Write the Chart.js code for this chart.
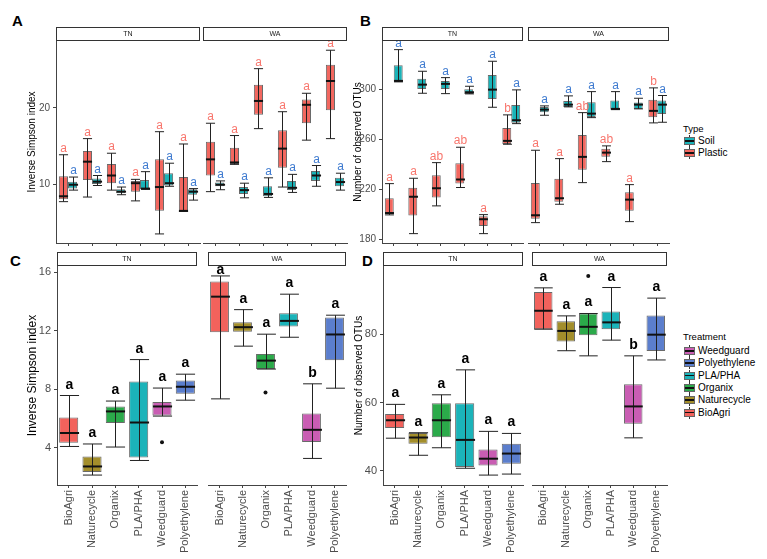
<!DOCTYPE html>
<html>
<head>
<meta charset="utf-8">
<script src="https://cdn.jsdelivr.net/npm/chart.js@4.4.1/dist/chart.umd.min.js"></script>
<style>
  body { margin: 0; background: #fff; font-family: "Liberation Sans", Arial, sans-serif; }
  #fig { position: relative; width: 767px; height: 559px; overflow: hidden; background: #fff; }
  canvas { position: absolute; }
  .tag { position: absolute; font-weight: bold; font-size: 15px; line-height: 15px; color: #000; }
  .legend { position: absolute; left: 683px; font-size: 10px; line-height: 12px; color: #000; }
  .legend .ttl { font-size: 9.5px; }
  .legend .item { display: flex; align-items: center; height: 12.3px; }
  .key { position: relative; width: 11px; height: 12px; margin: 0 3px 0 1px; flex: none; }
  .key i { position: absolute; left: 5px; top: 0; width: 1px; height: 12px; background: #333; }
  .key b { position: absolute; left: 0; top: 2px; width: 9px; height: 6px; border: 1px solid #666; }
  .key u { position: absolute; left: 1px; top: 5px; width: 9px; height: 1.5px; background: #111; }
</style>
</head>
<body>
<div id="fig">
  <div class="tag" style="left:12px;top:13px">A</div>
  <div class="tag" style="left:360px;top:13px">B</div>
  <div class="tag" style="left:10px;top:253px">C</div>
  <div class="tag" style="left:362px;top:253px">D</div>

  <canvas id="aTN" width="180" height="260" style="left:22px;top:0"></canvas>
  <canvas id="aWA" width="146" height="260" style="left:203px;top:0"></canvas>
  <canvas id="bTN" width="177" height="260" style="left:348px;top:0"></canvas>
  <canvas id="bWA" width="143" height="260" style="left:528px;top:0"></canvas>
  <canvas id="cTN" width="180" height="309" style="left:21px;top:250px"></canvas>
  <canvas id="cWA" width="146" height="309" style="left:204px;top:250px"></canvas>
  <canvas id="dTN" width="176" height="309" style="left:349px;top:250px"></canvas>
  <canvas id="dWA" width="143" height="309" style="left:528px;top:250px"></canvas>

  <div class="legend" style="top:123px">
    <div class="ttl">Type</div>
    <div class="item"><span class="key"><i></i><b style="background:#19B3B8"></b><u></u></span>Soil</div>
    <div class="item"><span class="key"><i></i><b style="background:#F2675F"></b><u></u></span>Plastic</div>
  </div>
  <div class="legend" id="treatLegend" style="top:331px">
    <div class="ttl" style="margin-bottom:2px">Treatment</div>
  </div>
</div>

<script>
const treatments = ['BioAgri', 'Naturecycle', 'Organix', 'PLA/PHA', 'Weedguard', 'Polyethylene'];
const legendOrder = ['Weedguard', 'Polyethylene', 'PLA/PHA', 'Organix', 'Naturecycle', 'BioAgri'];

// five-number summaries per treatment: [min, q1, median, q3, max]
// Panel A: inverse Simpson, plastic vs soil
const simpsonTN_plastic = [[7.8, 8.1, 8.5, 11.1, 13.9], [8.4, 10.6, 13.0, 14.4, 16.0], [9.3, 10.2, 11.2, 12.7, 14.1],
                           [7.9, 9.1, 10.2, 10.5, 10.7], [3.6, 6.6, 9.7, 13.3, 16.9], [6.55, 6.55, 6.6, 11.0, 15.3]];
const simpsonTN_soil    = [[9.3, 9.5, 10.0, 10.4, 11.0], [9.9, 10.1, 10.4, 10.8, 11.2], [8.7, 8.9, 9.1, 9.4, 9.7],
                           [9.4, 9.45, 9.5, 10.6, 11.7], [9.8, 9.9, 10.2, 11.5, 12.8], [8.0, 8.7, 9.1, 9.4, 9.5]];
const simpsonWA_plastic = [[9.1, 11.2, 13.3, 15.6, 18.0], [12.65, 12.7, 12.9, 14.8, 16.4], [17.3, 19.1, 20.9, 23.0, 25.1],
                           [9.7, 12.2, 14.7, 17.1, 19.5], [15.8, 18.0, 20.4, 21.1, 21.9], [16.0, 19.7, 23.5, 25.6, 27.5]];
const simpsonWA_soil    = [[9.35, 9.8, 10.0, 10.3, 10.5], [8.3, 8.8, 9.3, 9.7, 10.2], [8.35, 8.5, 8.8, 9.8, 10.9],
                           [9.0, 9.3, 9.6, 10.5, 11.35], [9.8, 10.5, 11.2, 11.8, 12.5], [9.3, 9.8, 10.35, 10.9, 11.5]];
const simpsonTypeLetters = ['a', 'a', 'a', 'a', 'a', 'a'];

// Panel B: observed OTUs, plastic vs soil
const otuTN_plastic = [[199.5, 200, 201, 212.8, 224.5], [184.5, 199, 214, 221.3, 228.8], [206.7, 213.4, 220.8, 231.2, 241.3],
                       [221.4, 224.6, 227.8, 240.8, 253.6], [184.5, 190.7, 196, 198.4, 199.7], [256, 256.3, 258.7, 269.1, 279.5]];
const otuTN_soil    = [[305.9, 306, 306.7, 319.2, 331.7], [296.8, 300.3, 303.7, 308.5, 314.4], [296.5, 300.3, 304.3, 306.7, 309.3],
                       [296.3, 296.3, 297.6, 300, 302.4], [285.6, 292.3, 299.7, 311.5, 322.4], [272.5, 273.3, 275.2, 287.5, 299.5]];
const otuWA_plastic = [[193.3, 196.5, 199.2, 225.1, 251.2], [208, 210.1, 212.8, 228.5, 244.5], [225.3, 235.7, 245.9, 263.5, 281.3],
                       [242.1, 246.1, 249.3, 252.5, 254.7], [194.1, 202.9, 211.7, 217.6, 223.7], [273.1, 277.6, 282.7, 291.7, 301.1]];
const otuWA_soil    = [[279.2, 281.6, 283.7, 285.9, 286.7], [285.9, 285.9, 287.7, 290.7, 294.7], [277.3, 277.9, 280.5, 289.6, 298.1],
                       [283.7, 283.7, 284.3, 291, 298.1], [284.3, 284.3, 287.7, 289.4, 292.8], [273.6, 280.3, 287.7, 291, 295]];
const otuPlasticLetters = ['a', 'a', 'ab', 'ab', 'a', 'b'];
const otuSoilLetters = ['a', 'a', 'a', 'a', 'a', 'a'];

// Panel C: inverse Simpson by treatment
const simpsonTreatTN = [[4.07, 4.32, 4.99, 6.06, 7.56], [2.11, 2.32, 2.7, 3.39, 4.24], [4.03, 5.67, 6.47, 6.81, 7.18],
                        [3.11, 3.32, 5.71, 8.52, 10.02], [6.15, 6.19, 6.81, 7.11, 8.07], [7.24, 7.68, 8.16, 8.59, 9.02]];
const simpsonTreatWA = [[7.33, 11.9, 14.33, 15.36, 15.75], [10.94, 11.92, 12.24, 12.58, 13.44], [9.37, 9.37, 9.95, 10.41, 11.76],
                        [11.55, 12.28, 12.67, 13.19, 14.5], [3.25, 4.37, 5.21, 6.33, 8.36], [8.06, 9.98, 11.74, 12.9, 13.06]];
const simpsonOutTN = [{ x: 'Weedguard', y: 4.35 }];
const simpsonOutWA = [{ x: 'Organix', y: 7.77 }];
const simpsonTreatLettersTN = ['a', 'a', 'a', 'a', 'a', 'a'];
const simpsonTreatLettersWA = ['a', 'a', 'a', 'a', 'b', 'a'];

// Panel D: observed OTUs by treatment
const otuTreatTN = [[49.6, 52.6, 54.85, 56.7, 59.5], [44.6, 48, 49.8, 51.1, 51.2], [46.8, 49.9, 54.85, 59.8, 62.3],
                    [40.8, 41.2, 49.1, 59.8, 69.6], [38.8, 41.6, 43.6, 46.3, 51.6], [39.1, 42.1, 45.1, 48, 51]];
const otuTreatWA = [[81.5, 81.5, 86.9, 92.4, 93.6], [75.2, 77.9, 81, 83.8, 85.4], [73.7, 79.7, 82.2, 86.1, 86.1],
                    [78.3, 81.5, 83.5, 86.7, 93.7], [49.7, 53.8, 58.9, 65.4, 73.7], [72.5, 75.1, 79.9, 85.5, 90.6]];
const otuOutTN = [];
const otuOutWA = [{ x: 'Organix', y: 97.1 }];
const otuTreatLettersTN = ['a', 'a', 'a', 'a', 'a', 'a'];
const otuTreatLettersWA = ['a', 'a', 'a', 'a', 'b', 'a'];

const simpsonTicksA = [10, 20];
const otuTicksB = [180, 220, 260, 300];
const simpsonTicksC = [4, 8, 12, 16];
const otuTicksD = [40, 60, 80];

const plasticColor = '#F2675F', soilColor = '#19B3B8';
const treatColors = ['#F2625C', '#A38E2B', '#2BAA4A', '#1BB3B9', '#C95DB3', '#5B7ECD'];
const axisColor = '#444';
const fontFamily = '"Liberation Sans", Arial, sans-serif';
Chart.defaults.font.family = fontFamily;

// treatment legend
const legendBox = document.getElementById('treatLegend');
legendOrder.forEach(t => {
  const c = treatColors[treatments.indexOf(t)];
  const row = document.createElement('div');
  row.className = 'item';
  row.innerHTML = '<span class="key"><i></i><b style="background:' + c + '"></b><u></u></span>' + t;
  legendBox.appendChild(row);
});

// facet strip (TN / WA) drawn above the chart area
const stripPlugin = {
  id: 'strip',
  afterDraw(chart, args, opts) {
    const a = chart.chartArea, ctx = chart.ctx, h = 14;
    ctx.save();
    ctx.fillStyle = '#fff';
    ctx.strokeStyle = '#333';
    ctx.lineWidth = 1;
    ctx.fillRect(a.left, a.top - h, a.right - a.left, h);
    ctx.strokeRect(a.left + 0.5, a.top - h + 0.5, a.right - a.left - 1, h - 1);
    ctx.fillStyle = '#1a1a1a';
    ctx.font = '7px ' + fontFamily;
    ctx.textAlign = 'center';
    ctx.textBaseline = 'middle';
    ctx.fillText(opts.text, (a.left + a.right) / 2, a.top - h / 2);
    ctx.restore();
  }
};

// whiskers, caps, medians and letters on top of the floating bars
const boxPlugin = {
  id: 'boxWhisker',
  afterDatasetsDraw(chart, args, opts) {
    const ctx = chart.ctx, y = chart.scales.y, top = chart.chartArea.top;
    chart.data.datasets.forEach((ds, di) => {
      if (!ds.stats) return;
      chart.getDatasetMeta(di).data.forEach((bar, i) => {
        const s = ds.stats[i];
        const x = Math.round(bar.x) + 0.5, hw = bar.width / 2;
        const pMin = y.getPixelForValue(s[0]), pMed = y.getPixelForValue(s[2]), pMax = y.getPixelForValue(s[4]);
        ctx.save();
        ctx.strokeStyle = '#222';
        ctx.lineWidth = 1;
        ctx.beginPath();
        ctx.moveTo(x, pMax); ctx.lineTo(x, pMin);
        ctx.moveTo(x - hw, pMax); ctx.lineTo(x + hw, pMax);
        ctx.moveTo(x - hw, pMin); ctx.lineTo(x + hw, pMin);
        ctx.stroke();
        ctx.strokeStyle = '#111';
        ctx.lineWidth = 2;
        ctx.beginPath();
        ctx.moveTo(x - hw, pMed); ctx.lineTo(x + hw, pMed);
        ctx.stroke();
        ctx.fillStyle = ds.letterColor;
        ctx.font = opts.font;
        ctx.textAlign = 'center';
        ctx.textBaseline = 'alphabetic';
        ctx.fillText(ds.letters[i], x, Math.max(pMax - opts.gap, top + opts.gap + 1));
        ctx.restore();
      });
    });
  }
};

function boxes(stats, color, letters, letterColor, width) {
  return {
    type: 'bar',
    data: stats.map(s => [s[1], s[3]]),
    stats: stats,
    letters: letters,
    letterColor: letterColor,
    backgroundColor: color,
    borderColor: '#6a6a6a',
    borderWidth: 1,
    borderSkipped: false,
    categoryPercentage: width,
    barPercentage: 1
  };
}

function outliers(points) {
  return { type: 'line', data: points, showLine: false, pointRadius: 2, pointBackgroundColor: '#111', pointBorderWidth: 0 };
}

function facet(id, o) {
  new Chart(document.getElementById(id), {
    type: 'bar',
    data: { labels: treatments, datasets: o.datasets },
    plugins: [boxPlugin, stripPlugin],
    options: {
      responsive: false,
      animation: false,
      devicePixelRatio: 1,
      layout: { padding: { top: o.top, right: 2, bottom: 0, left: 0 } },
      plugins: {
        legend: { display: false },
        tooltip: { enabled: false },
        strip: { text: o.strip },
        boxWhisker: { font: o.letterFont, gap: o.letterGap }
      },
      scales: {
        x: {
          offset: true,
          grid: { drawOnChartArea: false, offset: false, tickLength: 3, color: axisColor },
          border: { color: axisColor },
          ticks: { display: o.xLabels, autoSkip: false, minRotation: 90, maxRotation: 90, padding: 2,
                   color: '#4d4d4d', font: { size: 11 } },
          afterFit(s) { s.height = o.xHeight; s.paddingLeft = 0; s.paddingRight = 0; }
        },
        y: {
          display: o.yWidth > 0,
          min: o.min,
          max: o.max,
          afterBuildTicks(s) { s.ticks = o.ticks.map(v => ({ value: v })); },
          grid: { drawOnChartArea: false, tickLength: 3, color: axisColor },
          border: { color: axisColor },
          ticks: { padding: 3, color: '#4d4d4d', font: { size: o.tickSize } },
          title: { display: true, text: o.title, color: '#000', font: { size: o.titleSize }, padding: { top: 4, bottom: 4 } },
          afterFit(s) { s.width = o.yWidth; s.paddingTop = 0; s.paddingBottom = 0; }
        }
      }
    }
  });
}

const typeLetterFont = '12px ' + fontFamily;
const treatLetterFont = 'bold 14px ' + fontFamily;
const plasticLetter = '#F8766D', soilLetter = '#3F7BD0';

// Panel A
const aBase = { min: 2.42, max: 28.7, ticks: simpsonTicksA, title: 'Inverse Simpson index', titleSize: 10, tickSize: 10,
                top: 41, xHeight: 17, xLabels: false, letterFont: typeLetterFont, letterGap: 3 };
facet('aTN', Object.assign({}, aBase, { strip: 'TN', yWidth: 34, datasets: [
  boxes(simpsonTN_plastic, plasticColor, simpsonTypeLetters, plasticLetter, 0.76),
  boxes(simpsonTN_soil, soilColor, simpsonTypeLetters, soilLetter, 0.76)] }));
facet('aWA', Object.assign({}, aBase, { strip: 'WA', yWidth: 0, datasets: [
  boxes(simpsonWA_plastic, plasticColor, simpsonTypeLetters, plasticLetter, 0.76),
  boxes(simpsonWA_soil, soilColor, simpsonTypeLetters, soilLetter, 0.76)] }));

// Panel B
const bBase = { min: 177, max: 338.6, ticks: otuTicksB, title: 'Number of observed OTUs', titleSize: 10, tickSize: 10,
                top: 41, xHeight: 17, xLabels: false, letterFont: typeLetterFont, letterGap: 3 };
facet('bTN', Object.assign({}, bBase, { strip: 'TN', yWidth: 34, datasets: [
  boxes(otuTN_plastic, plasticColor, otuPlasticLetters, plasticLetter, 0.76),
  boxes(otuTN_soil, soilColor, otuSoilLetters, soilLetter, 0.76)] }));
facet('bWA', Object.assign({}, bBase, { strip: 'WA', yWidth: 0, datasets: [
  boxes(otuWA_plastic, plasticColor, otuPlasticLetters, plasticLetter, 0.76),
  boxes(otuWA_soil, soilColor, otuSoilLetters, soilLetter, 0.76)] }));

// Panel C
const cBase = { min: 1.43, max: 16.43, ticks: simpsonTicksC, title: 'Inverse Simpson index', titleSize: 12, tickSize: 11,
                top: 16, xHeight: 74, xLabels: true, letterFont: treatLetterFont, letterGap: 7 };
facet('cTN', Object.assign({}, cBase, { strip: 'TN', yWidth: 36, datasets: [
  boxes(simpsonTreatTN, treatColors, simpsonTreatLettersTN, '#000', 0.82), outliers(simpsonOutTN)] }));
facet('cWA', Object.assign({}, cBase, { strip: 'WA', yWidth: 0, datasets: [
  boxes(simpsonTreatWA, treatColors, simpsonTreatLettersWA, '#000', 0.82), outliers(simpsonOutWA)] }));

// Panel D
const dBase = { min: 35.9, max: 100, ticks: otuTicksD, title: 'Number of observed OTUs', titleSize: 10, tickSize: 11,
                top: 16, xHeight: 74, xLabels: true, letterFont: treatLetterFont, letterGap: 7 };
facet('dTN', Object.assign({}, dBase, { strip: 'TN', yWidth: 34, datasets: [
  boxes(otuTreatTN, treatColors, otuTreatLettersTN, '#000', 0.82), outliers(otuOutTN)] }));
facet('dWA', Object.assign({}, dBase, { strip: 'WA', yWidth: 0, datasets: [
  boxes(otuTreatWA, treatColors, otuTreatLettersWA, '#000', 0.82), outliers(otuOutWA)] }));
</script>
</body>
</html>
